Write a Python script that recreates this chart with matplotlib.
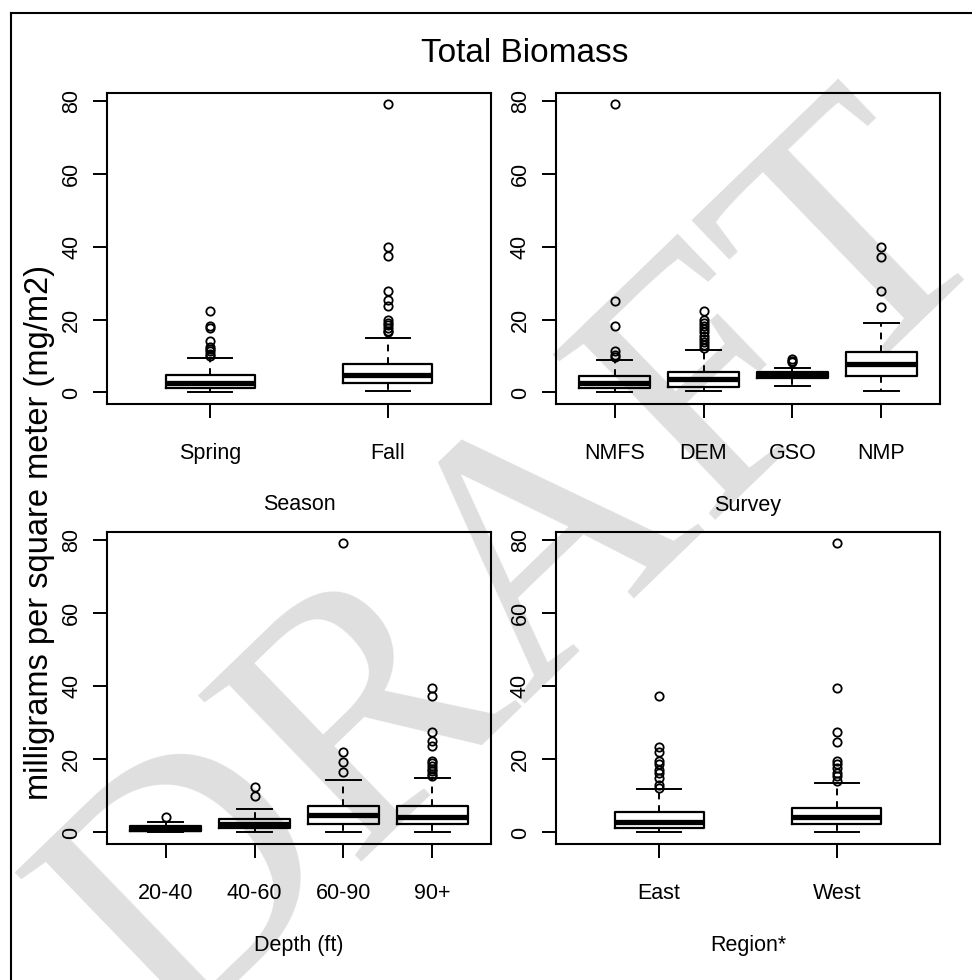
import numpy as np
import matplotlib
matplotlib.use("Agg")
import matplotlib.pyplot as plt
from matplotlib.lines import Line2D

plt.rcParams['font.family'] = ['Liberation Sans', 'DejaVu Sans']

# box stats (mg/m2)
season_labels = ["Spring", "Fall"]
season_whislo = [0.0, 0.4]
season_q1 = [1.1, 2.6]
season_med = [2.7, 4.8]
season_q3 = [4.9, 7.7]
season_whishi = [9.4, 15.0]
season_fliers = [
    [22.3, 18.2, 17.8, 14.0, 12.6, 12.0, 11.3, 10.5, 9.9],
    [79.2, 39.8, 37.5, 27.8, 25.3, 23.8, 19.8, 19.2, 18.5, 17.7, 17.0, 16.5],
]

survey_labels = ["NMFS", "DEM", "GSO", "NMP"]
survey_whislo = [0.0, 0.3, 1.7, 0.3]
survey_q1 = [1.1, 1.6, 3.9, 4.6]
survey_med = [2.5, 3.6, 4.7, 7.7]
survey_q3 = [4.6, 5.7, 5.7, 11.2]
survey_whishi = [9.0, 11.6, 6.6, 19.1]
survey_fliers = [
    [79.2, 25.0, 18.2, 11.3, 10.3, 9.8],
    [22.3, 20.0, 19.1, 18.2, 17.4, 16.5, 15.6, 14.7, 13.8, 12.9, 12.2],
    [9.1, 8.6, 8.3],
    [39.8, 37.1, 27.8, 23.6],
]

depth_labels = ["20-40", "40-60", "60-90", "90+"]
depth_whislo = [0.0, 0.0, 0.0, 0.0]
depth_q1 = [0.3, 1.2, 2.3, 2.3]
depth_med = [1.0, 2.3, 4.7, 4.1]
depth_q3 = [1.8, 3.6, 7.3, 7.3]
depth_whishi = [2.8, 6.4, 14.3, 14.8]
depth_fliers = [
    [4.1],
    [10.1, 12.5],
    [16.5, 19.2, 22.0, 79.2],
    [39.5, 37.2, 27.6, 25.0, 23.6, 19.5, 18.9, 18.1, 17.4, 16.7, 15.9, 15.4],
]

region_labels = ["East", "West"]
region_whislo = [0.0, 0.0]
region_q1 = [1.2, 2.3]
region_med = [2.8, 4.1]
region_q3 = [5.5, 6.7]
region_whishi = [11.9, 13.4]
region_fliers = [
    [37.2, 23.5, 22.1, 19.5, 18.6, 17.2, 16.3, 14.9, 13.1, 12.2],
    [79.2, 39.5, 27.6, 24.8, 19.5, 18.6, 17.7, 16.3, 15.4, 14.0],
]

y_ticks = [0, 20, 40, 60, 80]


def make_stats(labels, whislo, q1, med, q3, whishi, fliers):
    stats = []
    for i in range(len(labels)):
        stats.append(dict(label=labels[i], whislo=whislo[i], q1=q1[i], med=med[i],
                          q3=q3[i], whishi=whishi[i], fliers=fliers[i]))
    return stats


W, H = 972, 980
fig = plt.figure(figsize=(W / 100, H / 100), dpi=100)

# DRAFT watermark behind everything
fig.text(525 / W, 1 - 575 / H, "DRAFT", family="Liberation Serif", fontsize=255,
         color="#dfdfdf", rotation=44, ha="center", va="center", zorder=-5)

# outer frame (top and left only visible)
fig.add_artist(Line2D([11 / W, 11 / W], [1 - 13 / H, 0], transform=fig.transFigure,
                      color="black", lw=1.5))
fig.add_artist(Line2D([11 / W, 1], [1 - 13 / H, 1 - 13 / H], transform=fig.transFigure,
                      color="black", lw=1.5))

panels = [
    (make_stats(season_labels, season_whislo, season_q1, season_med, season_q3, season_whishi, season_fliers),
     "Season", 107, 93, 404, 0.5),
    (make_stats(survey_labels, survey_whislo, survey_q1, survey_med, survey_q3, survey_whishi, survey_fliers),
     "Survey", 556, 93, 404, 0.8),
    (make_stats(depth_labels, depth_whislo, depth_q1, depth_med, depth_q3, depth_whishi, depth_fliers),
     "Depth (ft)", 107, 532, 844, 0.8),
    (make_stats(region_labels, region_whislo, region_q1, region_med, region_q3, region_whishi, region_fliers),
     "Region*", 556, 532, 844, 0.5),
]

for stats, xlab, left, top, bottom, bw in panels:
    ax = fig.add_axes([left / W, 1 - bottom / H, 384 / W, (bottom - top) / H])
    ax.patch.set_alpha(0)
    n = len(stats)
    pos = np.arange(1, n + 1)
    ax.bxp(stats, positions=pos, widths=bw, capwidths=bw / 2,
           boxprops=dict(color="black", lw=1.6),
           medianprops=dict(color="black", lw=3.8, solid_capstyle="butt"),
           whiskerprops=dict(color="black", lw=1.4, linestyle=(0, (3.5, 3))),
           capprops=dict(color="black", lw=1.4),
           flierprops=dict(marker="o", markerfacecolor="none", markeredgecolor="black",
                           markersize=6, markeredgewidth=1.3))
    ax.set_xlim(0.5 - 0.04 * n, n + 0.5 + 0.04 * n)
    ax.set_ylim(-3.16, 82.2)
    ax.set_yticks(y_ticks)
    ax.set_yticklabels([str(t) for t in y_ticks], rotation=90, va="center")
    ax.set_xticks(pos)
    ax.set_xticklabels([s["label"] for s in stats])
    ax.tick_params(axis="y", length=10, width=1.4, labelsize=15.5, pad=8, direction="out")
    ax.tick_params(axis="x", length=10, width=1.4, labelsize=15.5, pad=18, direction="out")
    for sp in ax.spines.values():
        sp.set_linewidth(1.5)
    fig.text((left + 192) / W, 1 - (bottom + 101) / H, xlab, ha="center", va="center",
             fontsize=15.5)

fig.text(525 / W, 1 - 53 / H, "Total Biomass", ha="center", va="center", fontsize=24)
fig.text(40 / W, 1 - 532 / H, "milligrams per square meter (mg/m2)", rotation=90,
         ha="center", va="center", fontsize=23.5)

fig.savefig("out.png", dpi=100)
